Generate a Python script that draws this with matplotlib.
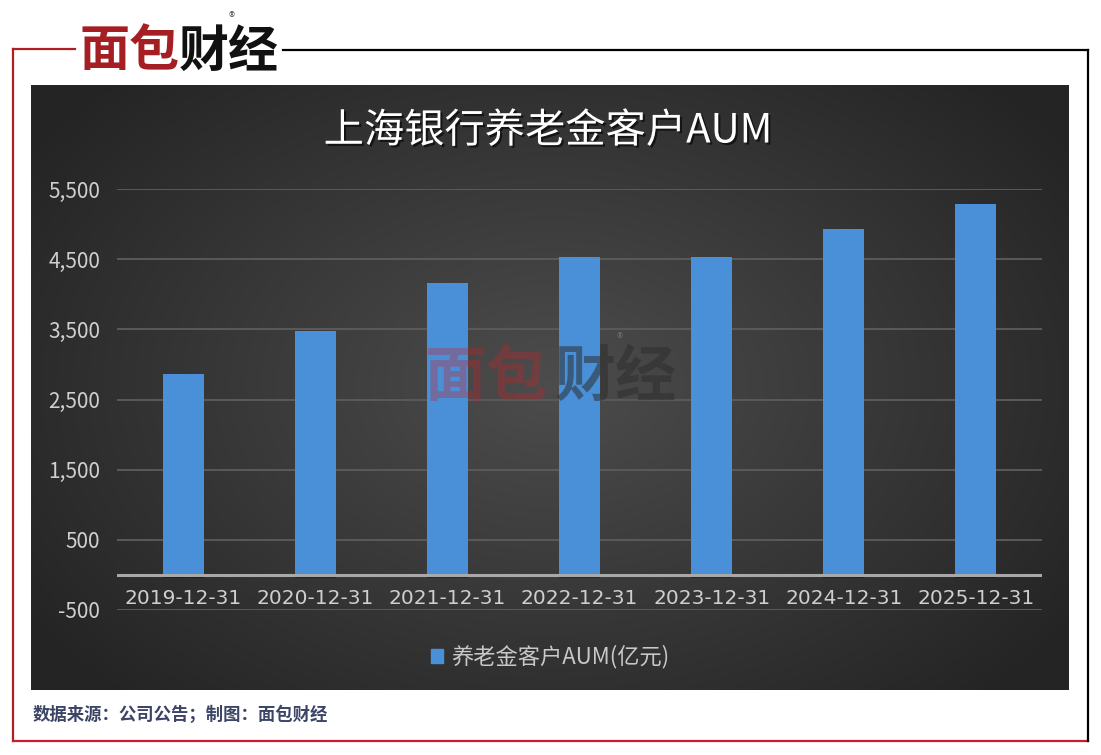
import numpy as np
import matplotlib
matplotlib.use("Agg")
import matplotlib.pyplot as plt
import matplotlib.patheffects as pe
from matplotlib.lines import Line2D
from matplotlib.patches import Patch

plt.rcParams["font.family"] = ["Noto Sans CJK SC", "DejaVu Sans"]

# data (亿元)
dates = ["2019-12-31", "2020-12-31", "2021-12-31", "2022-12-31",
         "2023-12-31", "2024-12-31", "2025-12-31"]
aum = [2865, 3475, 4160, 4530, 4530, 4925, 5285]
yticks = [-500, 500, 1500, 2500, 3500, 4500, 5500]

W, H = 1101, 755
fig = plt.figure(figsize=(W / 100, H / 100), dpi=100, facecolor="white")


def px(x0, y0, x1, y1):
    """pixel box (top-left origin) -> figure rect"""
    return [x0 / W, 1 - y1 / H, (x1 - x0) / W, (y1 - y0) / H]


# dark panel with radial gradient
bg = fig.add_axes(px(31, 85, 1069, 690))
bg.set_axis_off()
yy, xx = np.mgrid[0:605, 0:1038]
r = np.sqrt(((xx - 520) / 620) ** 2 + ((yy - 300) / 420) ** 2)
r = np.clip(r, 0, 1)
shade = 0.30 - 0.155 * r
bg.imshow(np.dstack([shade, shade, shade]), aspect="auto", extent=(0, 1, 0, 1))

# main plot
ax = fig.add_axes(px(117, 189, 1042, 610))
ax.patch.set_alpha(0)
x = np.arange(len(dates))
ax.bar(x, aum, width=0.31, color="#4a90d9", zorder=3,
       path_effects=[pe.SimplePatchShadow(offset=(0, -2), shadow_rgbFace="black", alpha=0.35),
                     pe.Normal()])
ax.set_xlim(-0.5, len(dates) - 0.5)
ax.set_ylim(-500, 5500)
ax.set_yticks(yticks)
ax.set_yticklabels([f"{v:,}" for v in yticks])
ax.tick_params(axis="y", length=0, pad=12, labelsize=15, labelcolor="#cfcfcf")
ax.set_xticks([])
for s in ax.spines.values():
    s.set_visible(False)
for v in yticks:
    ax.axhline(v, color="#5a5a5a", lw=1.4, zorder=1)
ax.axhline(0, color="#a8a8a8", lw=2.2, zorder=4)
for i, d in enumerate(dates):
    ax.text(i, -330, d, ha="center", va="center", fontsize=14.5,
            color="#cfcfcf", family=["DejaVu Sans"])

# title
fig.text(548 / W, 1 - 131 / H, "上海银行养老金客户AUM", ha="center", va="center",
         fontsize=29, color="white",
         path_effects=[pe.withSimplePatchShadow(offset=(1.5, -1.5), shadow_rgbFace="black", alpha=0.6)])

# legend
leg = ax.legend(handles=[Patch(color="#4a90d9", label="养老金客户AUM(亿元)")],
                loc="center", bbox_to_anchor=(550 / W, 1 - 657 / H),
                bbox_transform=fig.transFigure, frameon=False, fontsize=16,
                handlelength=0.55, handleheight=0.55, handletextpad=0.35)
for t in leg.get_texts():
    t.set_color("#c8c8c8")

# watermark
fig.text(486 / W, 1 - 378 / H, "面包", ha="center", va="center", fontsize=44,
         weight="heavy", color="#c0262d", alpha=0.35, zorder=10)
fig.text(616 / W, 1 - 378 / H, "财经", ha="center", va="center", fontsize=44,
         weight="heavy", color="#2e2e2e", alpha=0.55, zorder=10)
fig.text(620 / W, 1 - 339 / H, "®", ha="center", va="center", fontsize=9,
         color="#777777", alpha=0.8, zorder=10)

# top logo
fig.text(129 / W, 1 - 52 / H, "面包", ha="center", va="center", fontsize=36,
         weight="heavy", color="#a51e24")
fig.text(229 / W, 1 - 52 / H, "财经", ha="center", va="center", fontsize=36,
         weight="heavy", color="#111111")
fig.text(232 / W, 1 - 18 / H, "®", ha="center", va="center", fontsize=9, color="#555555")

# frame lines
def fline(xs, ys, color):
    fig.add_artist(Line2D([v / W for v in xs], [1 - v / H for v in ys],
                          color=color, lw=1.6, transform=fig.transFigure))

fline([13, 75], [49, 49], "#b01e24")
fline([13, 13], [49, 741], "#b01e24")
fline([13, 1088], [741, 741], "#c8202a")
fline([283, 1088], [50, 50], "black")
fline([1088, 1088], [50, 741], "black")

# footer
fig.text(33 / W, 1 - 715 / H, "数据来源：公司公告；制图：面包财经", ha="left", va="center",
         fontsize=12.5, weight="bold", color="#3c4566")

fig.savefig("out.png", dpi=100, facecolor="white")
